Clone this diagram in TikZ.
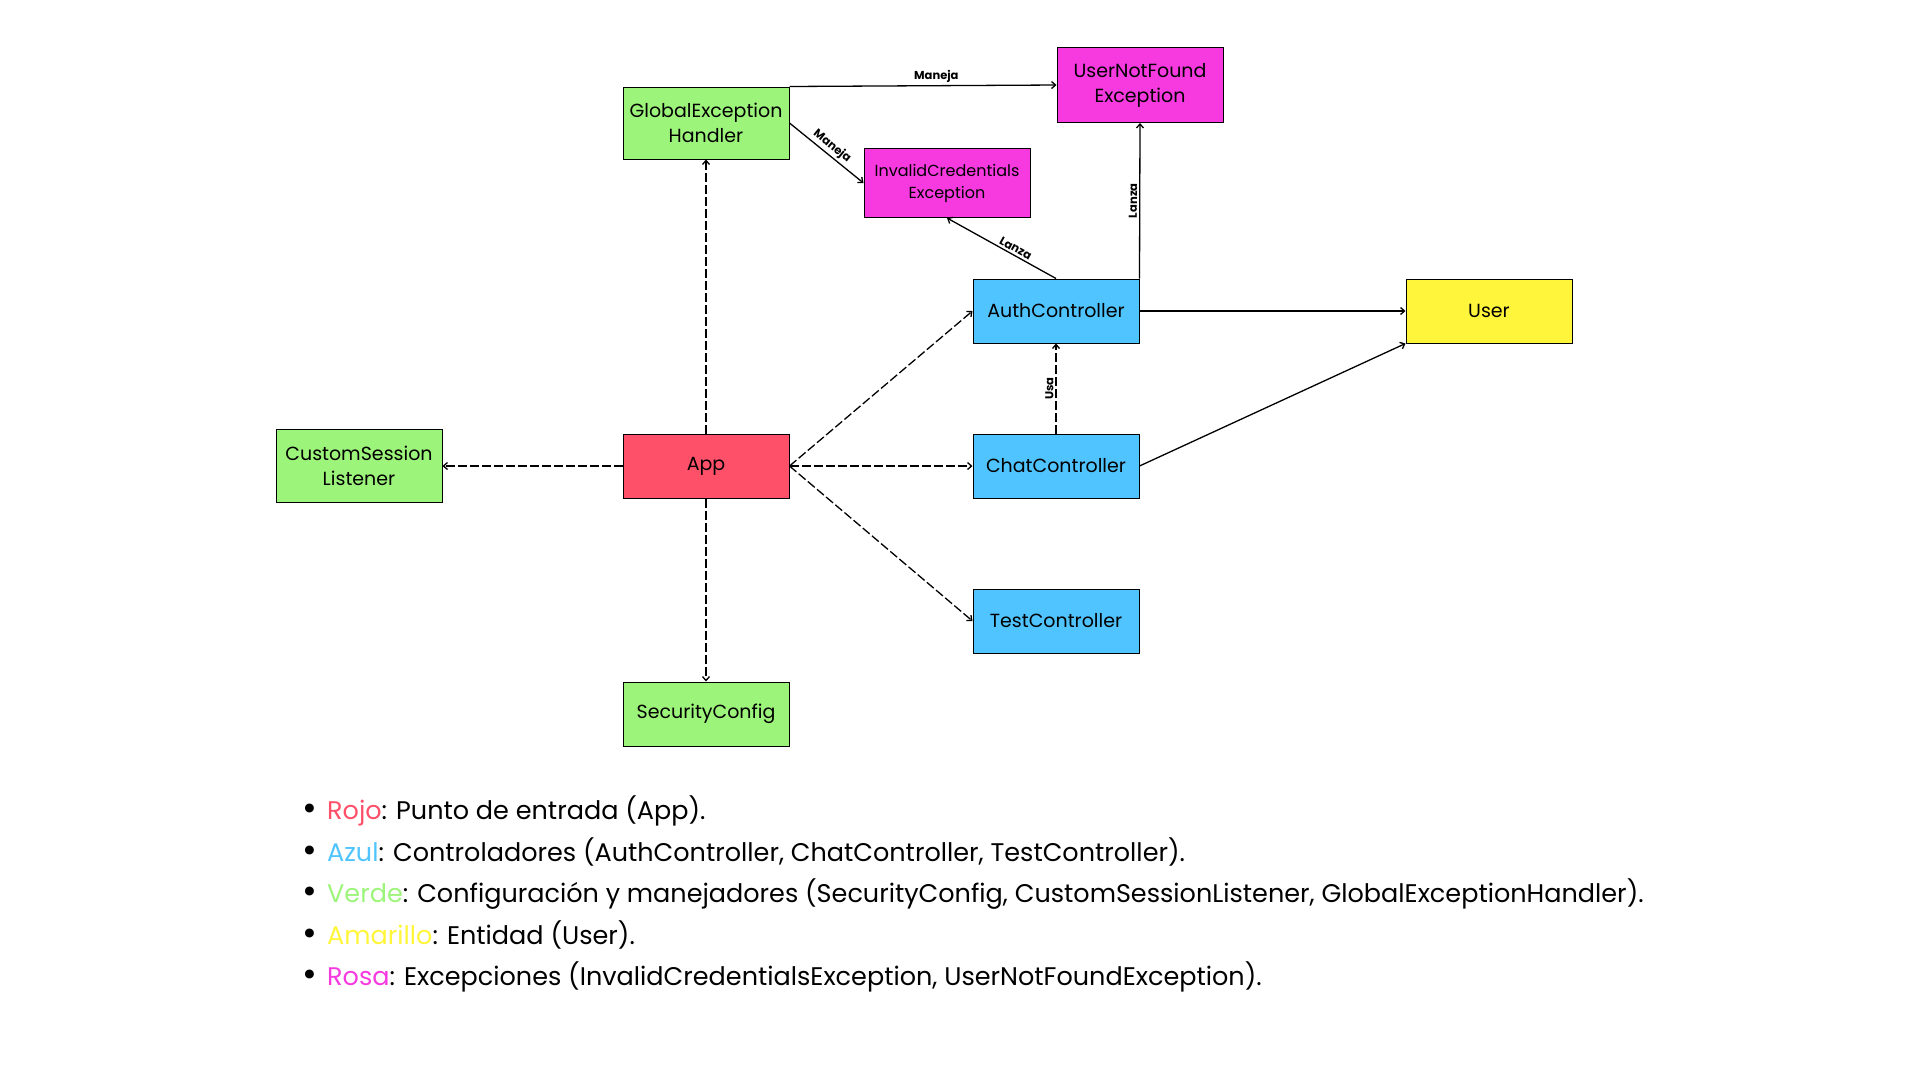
\documentclass[tikz,border=0pt]{standalone}
\usepackage{fontspec}
\setmainfont{Poppins}
\usepackage{xcolor}
\usetikzlibrary{positioning,arrows.meta}

\definecolor{rojo}{RGB}{255,80,105}
\definecolor{azul}{RGB}{80,196,255}
\definecolor{verde}{RGB}{156,245,122}
\definecolor{amarillo}{RGB}{255,245,58}
\definecolor{rosa}{RGB}{246,58,224}

\newcommand{\legbullet}{\makebox[25pt][l]{\raisebox{-1pt}{\fontsize{36}{28}\selectfont\textbullet}}}

\begin{document}
\begin{tikzpicture}[x=1pt, y=-1pt, on grid,
  >={Straight Barb[length=4pt,width=7pt]},
  box/.style={draw, line width=1pt, align=center, inner sep=0pt,
    minimum width=166pt, minimum height=64pt, font=\fontsize{19}{25}\selectfont},
  dep/.style={->, line width=1.3pt, dash pattern=on 9pt off 3pt},
  rel/.style={->, line width=1.3pt},
  lbl/.style={font=\bfseries\fontsize{11.5}{13}\selectfont, inner sep=2pt},
  legend/.style={anchor=west, inner sep=0pt, font=\fontsize{25.5}{30}\selectfont}]
\useasboundingbox (0,0) rectangle (1920,1080);

% nodes
\node (app) [box, fill=rojo] at (706,466) {App};
\node (geh) [box, fill=verde, minimum height=72pt, above=343pt of app] {GlobalException\\Handler};
\node (sc) [box, fill=verde, below=248pt of app] {SecurityConfig};
\node (csl) [box, fill=verde, minimum height=73pt, left=347pt of app] {CustomSession\\Listener};
\node (chat) [box, fill=azul, right=350pt of app] {ChatController};
\node (auth) [box, fill=azul, above=155pt of chat] {AuthController};
\node (test) [box, fill=azul, below=155pt of chat] {TestController};
\node (user) [box, fill=amarillo, right=433pt of auth] {User};
\node (ice) [box, fill=rosa, minimum height=69pt, font=\fontsize{16}{22}\selectfont,
  above left=128pt and 109pt of auth] {InvalidCredentials\\Exception};
\node (unf) [box, fill=rosa, minimum height=75pt, above right=226pt and 84pt of auth] {UserNotFound\\Exception};

% connectors
\draw[rel] (geh.north east) -- node[lbl, above, pos=0.55] {Maneja} (unf.west);
\draw[rel] (geh.east) -- node[lbl, sloped, above] {Maneja} (ice.west);
\draw[rel] (auth.north) -- node[lbl, sloped, above, pos=0.4] {Lanza} (ice.south);
\draw[rel] (auth.north east) -- node[lbl, sloped, above] {Lanza} (unf.south);
\draw[rel] (auth.east) -- (user.west);
\draw[rel] (chat.east) -- (user.south west);
\draw[dep] (chat.north) -- node[lbl, sloped, above] {Usa} (auth.south);
\draw[dep] (app.north) -- (geh.south);
\draw[dep] (app.south) -- (sc.north);
\draw[dep] (app.west) -- (csl.east);
\draw[dep] (app.east) -- (auth.west);
\draw[dep] (app.east) -- (chat.west);
\draw[dep] (app.east) -- (test.west);

% legend
\node (leg1) [legend] at (302,811) {\legbullet{\color{rojo}Rojo}: Punto de entrada (App).};
\node (leg2) [legend] at (302,852) {\legbullet{\color{azul}Azul}: Controladores (AuthController, ChatController, TestController).};
\node (leg3) [legend] at (302,894) {\legbullet{\color{verde}Verde}: Configuración y manejadores (SecurityConfig, CustomSessionListener, GlobalExceptionHandler).};
\node (leg4) [legend] at (302,935) {\legbullet{\color{amarillo}Amarillo}: Entidad (User).};
\node (leg5) [legend] at (302,977) {\legbullet{\color{rosa}Rosa}: Excepciones (InvalidCredentialsException, UserNotFoundException).};
\end{tikzpicture}
\end{document}
